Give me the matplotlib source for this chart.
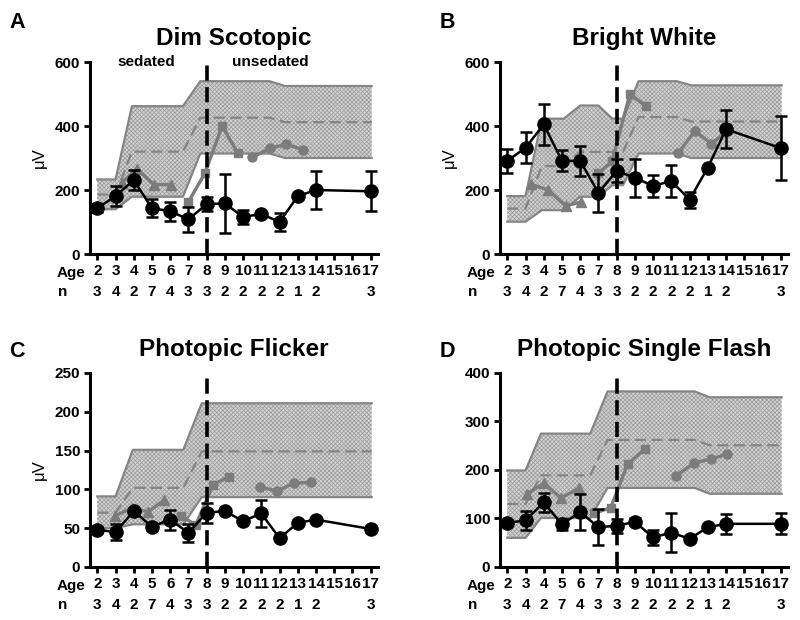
import matplotlib.pyplot as plt

plt.rcParams['font.family'] = ['Liberation Sans', 'DejaVu Sans']
plt.rcParams['hatch.linewidth'] = 0.5

ages = [2, 3, 4, 5, 6, 7, 8, 9, 10, 11, 12, 13, 14, 17]
age_ticks = list(range(2, 18))
n_counts = [3, 4, 2, 7, 4, 3, 3, 2, 2, 2, 2, 1, 2, 3]

# A - Dim Scotopic
dim_mean = [143, 181, 231, 143, 134, 108, 156, 158, 116, 125, 100, 181, 200, 196]
dim_err = [13, 30, 30, 28, 30, 40, 22, 92, 21, 0, 28, 0, 58, 62]
dim_band_x = [2, 3, 3.9, 6.7, 7.65, 11.45, 12.3, 17.05]
dim_band_hi = [233, 233, 462, 462, 540, 540, 525, 525]
dim_band_mid = [186, 186, 320, 320, 426, 426, 412, 412]
dim_band_lo = [140, 140, 179, 179, 314, 314, 300, 300]
dim_tri_x = [3.33, 4.16, 5.1, 6.07]
dim_tri_y = [222, 267, 217, 217]
dim_sq_x = [7.0, 7.9, 8.85, 9.7]
dim_sq_y = [163, 252, 400, 316]
dim_ci_x = [10.5, 11.47, 12.37, 13.28]
dim_ci_y = [302, 330, 343, 326]

# B - Bright White
bw_mean = [291, 332, 405, 291, 291, 191, 260, 238, 213, 228, 170, 270, 390, 331]
bw_err = [38, 49, 63, 33, 46, 59, 36, 59, 34, 49, 25, 0, 60, 100]
bw_band_x = [2, 3, 3.9, 5.1, 6.0, 7.0, 7.76, 8.35, 9.2, 11.3, 12.1, 17.05]
bw_band_hi = [181, 181, 423, 423, 464, 464, 423, 423, 540, 540, 527, 527]
bw_band_mid = [142, 142, 275, 275, 319, 319, 319, 319, 428, 428, 414, 414]
bw_band_lo = [101, 101, 137, 137, 179, 179, 215, 215, 314, 314, 300, 300]
bw_tri_x = [3.3, 4.25, 5.2, 6.05]
bw_tri_y = [218, 200, 150, 163]
bw_sq_x = [7.0, 7.75, 8.72, 9.62]
bw_sq_y = [253, 290, 499, 462]
bw_ci_x = [11.38, 12.3, 13.2, 14.1]
bw_ci_y = [316, 384, 345, 385]

# C - Photopic Flicker
fl_mean = [48, 45, 72, 52, 61, 44, 70, 72, 59, 69, 37, 57, 61, 49]
fl_err = [3, 10, 3, 4, 13, 12, 13, 3, 2, 17, 2, 0, 2, 4]
fl_band_x = [2, 3, 3.95, 6.72, 7.73, 17.05]
fl_band_hi = [91, 91, 151, 151, 211, 211]
fl_band_mid = [70, 70, 102, 102, 149, 149]
fl_band_lo = [50, 50, 55, 55, 90, 90]
fl_tri_x = [2.97, 3.9, 4.8, 5.65]
fl_tri_y = [66, 76, 71, 86]
fl_sq_x = [6.6, 7.4, 8.35, 9.2]
fl_sq_y = [66, 54, 106, 116]
fl_ci_x = [10.9, 11.87, 12.8, 13.7]
fl_ci_y = [103, 98, 108, 109]

# D - Photopic Single Flash
sf_mean = [91, 96, 133, 88, 113, 82, 85, 93, 61, 71, 58, 82, 89, 89]
sf_err = [5, 20, 20, 11, 37, 37, 14, 7, 15, 40, 3, 0, 21, 22]
sf_band_x = [2, 3, 3.85, 6.55, 7.5, 12.28, 13.1, 17.05]
sf_band_hi = [199, 199, 275, 275, 362, 362, 350, 350]
sf_band_mid = [130, 130, 189, 189, 262, 262, 251, 251]
sf_band_lo = [60, 60, 101, 101, 163, 163, 151, 151]
sf_tri_x = [3.1, 4.02, 4.94, 5.95]
sf_tri_y = [151, 173, 142, 163]
sf_sq_x = [6.77, 7.67, 8.6, 9.53]
sf_sq_y = [111, 122, 212, 243]
sf_ci_x = [11.28, 12.25, 13.15, 14.05]
sf_ci_y = [188, 215, 222, 233]

panels = [
    dict(letter='A', title='Dim Scotopic', ymax=600, yticks=[0, 200, 400, 600],
         mean=dim_mean, err=dim_err, bx=dim_band_x, hi=dim_band_hi, mid=dim_band_mid, lo=dim_band_lo,
         tri=(dim_tri_x, dim_tri_y), sq=(dim_sq_x, dim_sq_y), ci=(dim_ci_x, dim_ci_y),
         rect=[0.1125, 0.5903, 0.36, 0.3097], ylabel=True),
    dict(letter='B', title='Bright White', ymax=600, yticks=[0, 200, 400, 600],
         mean=bw_mean, err=bw_err, bx=bw_band_x, hi=bw_band_hi, mid=bw_band_mid, lo=bw_band_lo,
         tri=(bw_tri_x, bw_tri_y), sq=(bw_sq_x, bw_sq_y), ci=(bw_ci_x, bw_ci_y),
         rect=[0.625, 0.5903, 0.36, 0.3097], ylabel=True),
    dict(letter='C', title='Photopic Flicker', ymax=250, yticks=[0, 50, 100, 150, 200, 250],
         mean=fl_mean, err=fl_err, bx=fl_band_x, hi=fl_band_hi, mid=fl_band_mid, lo=fl_band_lo,
         tri=(fl_tri_x, fl_tri_y), sq=(fl_sq_x, fl_sq_y), ci=(fl_ci_x, fl_ci_y),
         rect=[0.1125, 0.0855, 0.36, 0.3129], ylabel=True),
    dict(letter='D', title='Photopic Single Flash', ymax=400, yticks=[0, 100, 200, 300, 400],
         mean=sf_mean, err=sf_err, bx=sf_band_x, hi=sf_band_hi, mid=sf_band_mid, lo=sf_band_lo,
         tri=(sf_tri_x, sf_tri_y), sq=(sf_sq_x, sf_sq_y), ci=(sf_ci_x, sf_ci_y),
         rect=[0.625, 0.0855, 0.36, 0.3129], ylabel=False),
]

band_line = '#858585'
gray = '#7c7c7c'

fig = plt.figure(figsize=(8, 6.2), dpi=100)

for p in panels:
    ax = fig.add_axes(p['rect'])

    # normal range band
    ax.fill_between(p['bx'], p['lo'], p['hi'], facecolor='#d2d2d2', edgecolor='#9a9a9a',
                    hatch='xxxxxxxx', linewidth=0, zorder=1)
    ax.plot(p['bx'], p['hi'], color=band_line, lw=1.6, zorder=2)
    ax.plot(p['bx'], p['lo'], color=band_line, lw=1.6, zorder=2)
    ax.plot(p['bx'], p['mid'], color=band_line, lw=1.6, ls=(0, (5, 2.5)), zorder=2)

    # gray comparison series
    ax.plot(*p['tri'], '-^', color=gray, ms=7, lw=2.4, zorder=3)
    ax.plot(*p['sq'], '-s', color=gray, ms=6, lw=2.4, zorder=3)
    ax.plot(*p['ci'], '-o', color=gray, ms=6.5, lw=2.4, zorder=3)

    ax.axvline(8, color='black', lw=2.6, ls=(0, (4.2, 1.8)), zorder=4)

    ax.errorbar(ages, p['mean'], yerr=p['err'], fmt='-o', color='black', ms=9.5,
                lw=1.8, elinewidth=1.8, capsize=4.5, capthick=1.8, zorder=5)

    ax.set_xlim(1.6, 17.4)
    ax.set_ylim(0, p['ymax'])
    ax.set_yticks(p['yticks'])
    ax.set_xticks(age_ticks)
    ax.set_xticklabels([str(a) for a in age_ticks], fontweight='bold', fontsize=11)
    ax.set_yticklabels([str(t) for t in p['yticks']], fontweight='bold', fontsize=11)
    for s in ['top', 'right']:
        ax.spines[s].set_visible(False)
    for s in ['left', 'bottom']:
        ax.spines[s].set_linewidth(2.2)
    ax.tick_params(direction='out', length=4, width=2, pad=3)

    ax.annotate('Age', xy=(0, 0), xycoords='axes fraction', xytext=(-3.5, -13.5),
                textcoords='offset points', ha='right', va='center',
                fontsize=11, fontweight='bold')
    ax.annotate('n', xy=(0, 0), xycoords='axes fraction', xytext=(-23, -27.5),
                textcoords='offset points', ha='left', va='center',
                fontsize=11, fontweight='bold')
    for a, n in zip(ages, n_counts):
        ax.annotate(str(n), xy=(a, 0), xycoords=('data', 'axes fraction'), xytext=(0, -27.5),
                    textcoords='offset points', ha='center', va='center',
                    fontsize=11, fontweight='bold')

    if p['ylabel']:
        ax.set_ylabel('μV', fontsize=12, labelpad=6)
    ax.set_title(p['title'], fontsize=17.5, fontweight='bold', pad=12)

    x0 = 0.012 if p['rect'][0] < 0.5 else 0.55
    y0 = 0.955 if p['rect'][1] > 0.5 else 0.424
    fig.text(x0, y0, p['letter'], fontsize=15.5, fontweight='bold', va='baseline')

    if p['letter'] == 'A':
        ax.text(4.68, 600, 'sedated', ha='center', va='center', fontsize=11, fontweight='bold')
        ax.text(11.47, 600, 'unsedated', ha='center', va='center', fontsize=11, fontweight='bold')

fig.savefig('out.png', dpi=100)
